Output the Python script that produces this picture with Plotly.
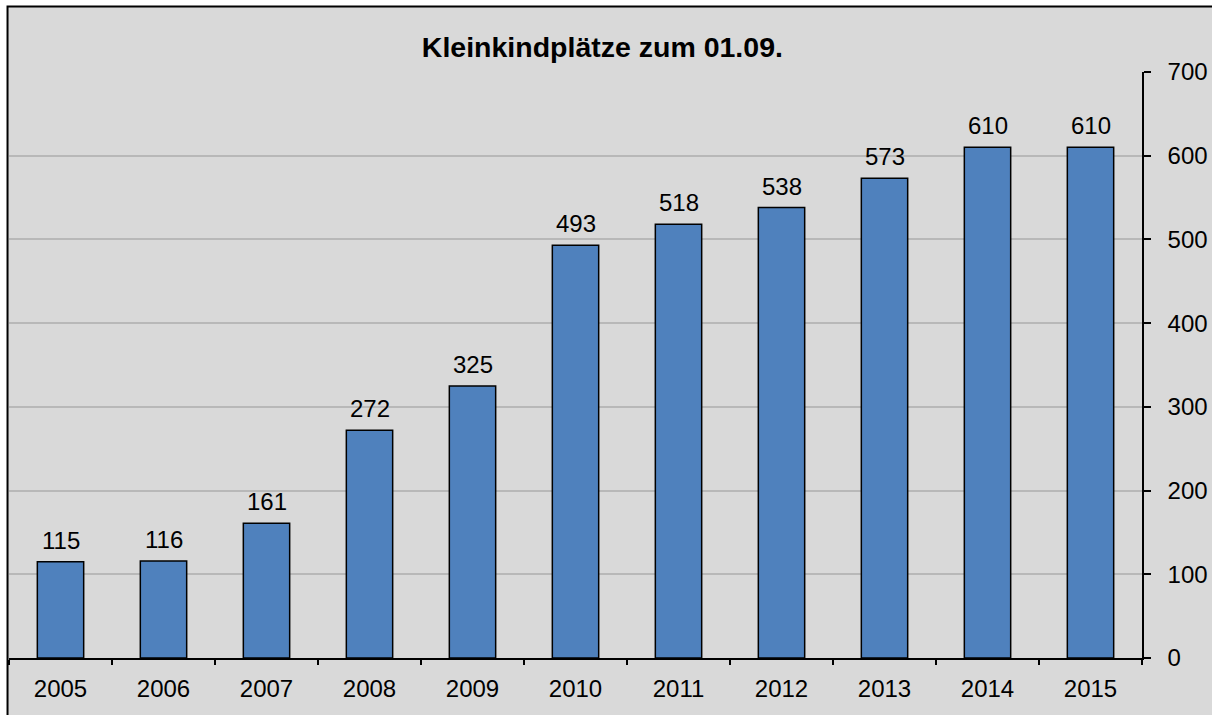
import plotly.graph_objects as go

# Data
years = ["2005", "2006", "2007", "2008", "2009", "2010",
         "2011", "2012", "2013", "2014", "2015"]
places = [115, 116, 161, 272, 325, 493, 518, 538, 573, 610, 610]
y_ticks = [0, 100, 200, 300, 400, 500, 600, 700]

FONT = "Liberation Sans, Arial, sans-serif"

trace = go.Bar(
    x=years,
    y=places,
    marker=dict(color="#4F81BD", line=dict(color="black", width=1.5)),
    cliponaxis=False,
)

# value labels above the bars (x given as category index)
labels = [dict(x=i, y=v, text=str(v), showarrow=False,
               yanchor="bottom", yshift=6,
               font=dict(family=FONT, size=24, color="black"))
          for i, v in enumerate(places)]

layout = go.Layout(
    width=1212,
    height=715,
    margin=dict(l=9, r=70, t=72, b=57),
    paper_bgcolor="white",
    plot_bgcolor="rgba(0,0,0,0)",
    bargap=0.55,
    showlegend=False,
    font=dict(family=FONT, size=24, color="black"),
    title=dict(
        text="<b>Kleinkindplätze zum 01.09.</b>",
        font=dict(family=FONT, size=28.5, color="black"),
        x=0.497, xref="container", xanchor="center",
        y=0.934, yref="container", yanchor="middle",
    ),
    xaxis=dict(
        type="category",
        range=[-0.5, len(years) - 0.5],
        showline=True, linecolor="black", linewidth=1.5,
        ticks="outside", tickson="boundaries", ticklen=5,
        tickcolor="black", tickwidth=1.5,
        showgrid=False,
        ticklabelstandoff=8,
        automargin=False,
    ),
    yaxis=dict(
        side="right",
        range=[0, 700],
        tickvals=y_ticks,
        showline=True, linecolor="black", linewidth=1.5,
        ticks="outside", ticklen=7, tickcolor="black", tickwidth=1.5,
        showgrid=True, gridcolor="#B8B8B8", gridwidth=1.5,
        zeroline=False,
        ticklabelstandoff=12,
        automargin=False,
    ),
    annotations=labels,
    # chart area: gray box with black border, cut off at right/bottom
    shapes=[dict(
        type="rect", xref="paper", yref="paper",
        x0=-0.0013, x1=1.1, y0=-0.2, y1=1.1118,
        fillcolor="#D9D9D9", line=dict(color="black", width=2),
        layer="below",
    )],
)

fig = go.Figure(data=[trace], layout=layout)
# drop the browser's default body margin so the figure sits at 0,0
fig.write_html("out.html",
               config={"displayModeBar": False},
               post_script="document.body.style.margin='0';"
                           "document.body.style.overflow='hidden';")
